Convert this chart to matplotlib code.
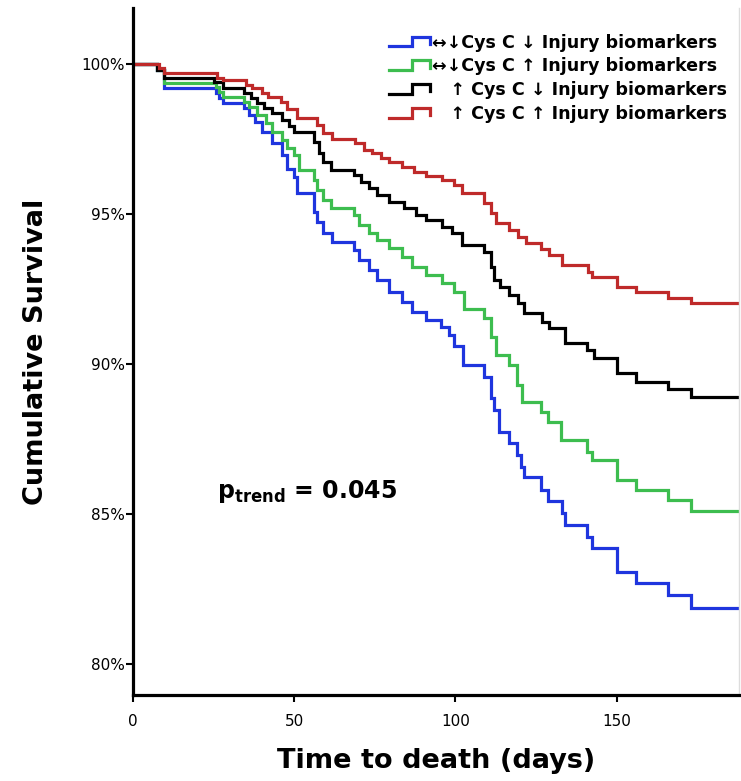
import matplotlib
matplotlib.use("Agg")
import matplotlib.pyplot as plt
from matplotlib.legend_handler import HandlerBase
from matplotlib.lines import Line2D
from matplotlib.ticker import FuncFormatter

# ---- data ----
labels = ["\u2194\u2193Cys C \u2193 Injury biomarkers",
          "\u2194\u2193Cys C \u2191 Injury biomarkers",
          "   \u2191 Cys C \u2193 Injury biomarkers",
          "   \u2191 Cys C \u2191 Injury biomarkers"]
colors = ["#1f35de", "#3dbd4f", "#000000", "#bf2a2a"]

blue_t = [0, 7.5, 9.6, 25.8, 26.7, 28, 34.5, 36, 38, 40, 43.2, 46.3, 47.8, 50, 51, 56, 57, 58.8,
          61.8, 68.6, 70.2, 73.3, 75.8, 79.5, 83.5, 86.6, 91, 95.6, 98, 99.5, 102.5, 109, 111, 112,
          113.4, 116.8, 119, 120.5, 121.4, 126.7, 128.6, 133.2, 133.9, 140.7, 142.5, 150, 156,
          166, 173, 188]
blue_s = [100, 99.8, 99.2, 99.03, 98.87, 98.7, 98.53, 98.3, 98.07, 97.73, 97.37, 96.97, 96.5,
          96.23, 95.7, 95.07, 94.73, 94.37, 94.07, 93.8, 93.47, 93.13, 92.8, 92.4, 92.07, 91.73,
          91.47, 91.23, 90.97, 90.6, 89.97, 89.57, 88.87, 88.47, 87.73, 87.37, 86.97, 86.57,
          86.23, 85.8, 85.43, 85.03, 84.63, 84.23, 83.87, 83.07, 82.7, 82.3, 81.87, 81.87]

green_t = [0, 7.5, 9.6, 25.8, 26.7, 28, 34.5, 36, 38.5, 41.3, 43.2, 46.3, 47.8, 50, 51.6, 56, 57,
           58.8, 61.5, 68.6, 70.2, 73.3, 75.8, 79.5, 83.5, 86.6, 91, 96, 99.5, 102.8, 109, 111,
           112.7, 116.5, 119, 120.8, 126.7, 128.6, 132.9, 140.7, 142.5, 150, 156, 166, 173, 188]
green_s = [100, 99.8, 99.37, 99.23, 99.07, 98.9, 98.73, 98.57, 98.3, 98.03, 97.73, 97.47, 97.2,
           96.97, 96.47, 96.13, 95.8, 95.47, 95.2, 94.97, 94.63, 94.37, 94.13, 93.87, 93.57,
           93.23, 92.97, 92.7, 92.4, 91.83, 91.53, 90.9, 90.3, 89.97, 89.3, 88.73, 88.4, 88.07,
           87.47, 87.07, 86.8, 86.13, 85.8, 85.47, 85.1, 85.1]

black_t = [0, 7.5, 9.6, 25, 28, 34.5, 36.6, 38.5, 40.7, 43.2, 46.3, 48.4, 50, 56, 57.8, 58.8,
           61.5, 68.6, 70.8, 73.3, 75.8, 79.5, 84, 87.9, 91, 96, 99, 102, 109, 111, 112, 113.7,
           116.8, 119.3, 121.4, 127, 129.2, 134, 140.7, 143, 150, 156, 166, 173, 188]
black_s = [100, 99.8, 99.53, 99.4, 99.2, 99.03, 98.87, 98.7, 98.53, 98.37, 98.13, 97.95, 97.73,
           97.4, 97.03, 96.73, 96.47, 96.3, 96.07, 95.87, 95.63, 95.4, 95.2, 94.97, 94.8, 94.57,
           94.37, 93.97, 93.73, 93.23, 92.8, 92.57, 92.3, 92.03, 91.7, 91.4, 91.2, 90.7, 90.47,
           90.2, 89.7, 89.4, 89.17, 88.9, 88.9]

red_t = [0, 8, 9.6, 26, 28, 35, 37, 40, 42, 46, 47.8, 51, 57, 58.8, 61.8, 69, 71.8, 74.3, 77,
         79.5, 83.5, 87.3, 91, 96, 99.7, 102, 109, 111, 112.7, 116.8, 119.3, 122, 126.7, 129.2,
         133.2, 141, 142.5, 150, 156, 166, 173, 188]
red_s = [100, 99.87, 99.7, 99.53, 99.47, 99.3, 99.2, 99.03, 98.9, 98.73, 98.5, 98.2, 97.97, 97.7,
         97.5, 97.37, 97.13, 97.03, 96.87, 96.73, 96.57, 96.4, 96.27, 96.13, 95.97, 95.7, 95.37,
         95.03, 94.7, 94.47, 94.23, 94.03, 93.83, 93.63, 93.3, 93.07, 92.9, 92.57, 92.4, 92.2,
         92.03, 92.03]

x_ticks = [0, 50, 100, 150]
y_ticks = [80, 85, 90, 95, 100]

series = [(blue_t, blue_s), (green_t, green_s), (black_t, black_s), (red_t, red_s)]


class StepHandler(HandlerBase):
    def create_artists(self, legend, orig_handle, xdescent, ydescent, width, height,
                       fontsize, trans):
        x0 = -xdescent
        y0 = -ydescent
        xs = [x0, x0 + 0.55 * width, x0 + 0.55 * width, x0 + width, x0 + width]
        ys = [y0 + 0.1 * height, y0 + 0.1 * height, y0 + 0.9 * height, y0 + 0.9 * height,
              y0 + 0.3 * height]
        ln = Line2D(xs, ys, color=orig_handle.get_color(), lw=orig_handle.get_linewidth(),
                    solid_joinstyle="miter", transform=trans)
        return [ln]


fig = plt.figure(figsize=(7.41, 7.81), dpi=100)
ax = fig.add_axes([133 / 741, 1 - 695 / 781, 1 - 133 / 741 - 2 / 741, (695 - 8) / 781])

handles = []
for (t, s), c, lab in zip(series, colors, labels):
    h, = ax.step(t, s, where="post", color=c, lw=2.3, label=lab, solid_joinstyle="miter")
    handles.append(h)

ax.set_xlim(0, 188)
ax.set_ylim(78.97, 101.87)
ax.set_xticks(x_ticks)
ax.set_yticks(y_ticks)
ax.yaxis.set_major_formatter(FuncFormatter(lambda v, p: f"{v:.0f}%"))

for side in ["left", "bottom"]:
    ax.spines[side].set_linewidth(2.3)
ax.spines["top"].set_visible(False)
ax.spines["right"].set_color("#dddddd")
ax.spines["right"].set_linewidth(1)
ax.tick_params(axis="both", direction="out", length=5, width=1.5, labelsize=11)
ax.tick_params(axis="y", pad=1)
ax.tick_params(axis="x", pad=9)

ax.set_xlabel("Time to death (days)", fontsize=19.5, fontweight="bold", labelpad=13)
ax.set_ylabel("Cumulative Survival", fontsize=19.5, fontweight="bold", labelpad=23)

ax.text(26, 85.75, r"$\mathbf{p}_{\mathbf{trend}}$ = 0.045", fontsize=17, fontweight="bold",
        va="center", ha="left")

leg = ax.legend(handles=handles, loc="upper right", bbox_to_anchor=(0.998, 0.978),
                frameon=False, handler_map={Line2D: StepHandler()},
                prop={"weight": "bold", "size": 12.6}, handlelength=2.3,
                handletextpad=0.15, labelspacing=0.33, borderaxespad=0.2)

fig.savefig("out.png", dpi=100)
